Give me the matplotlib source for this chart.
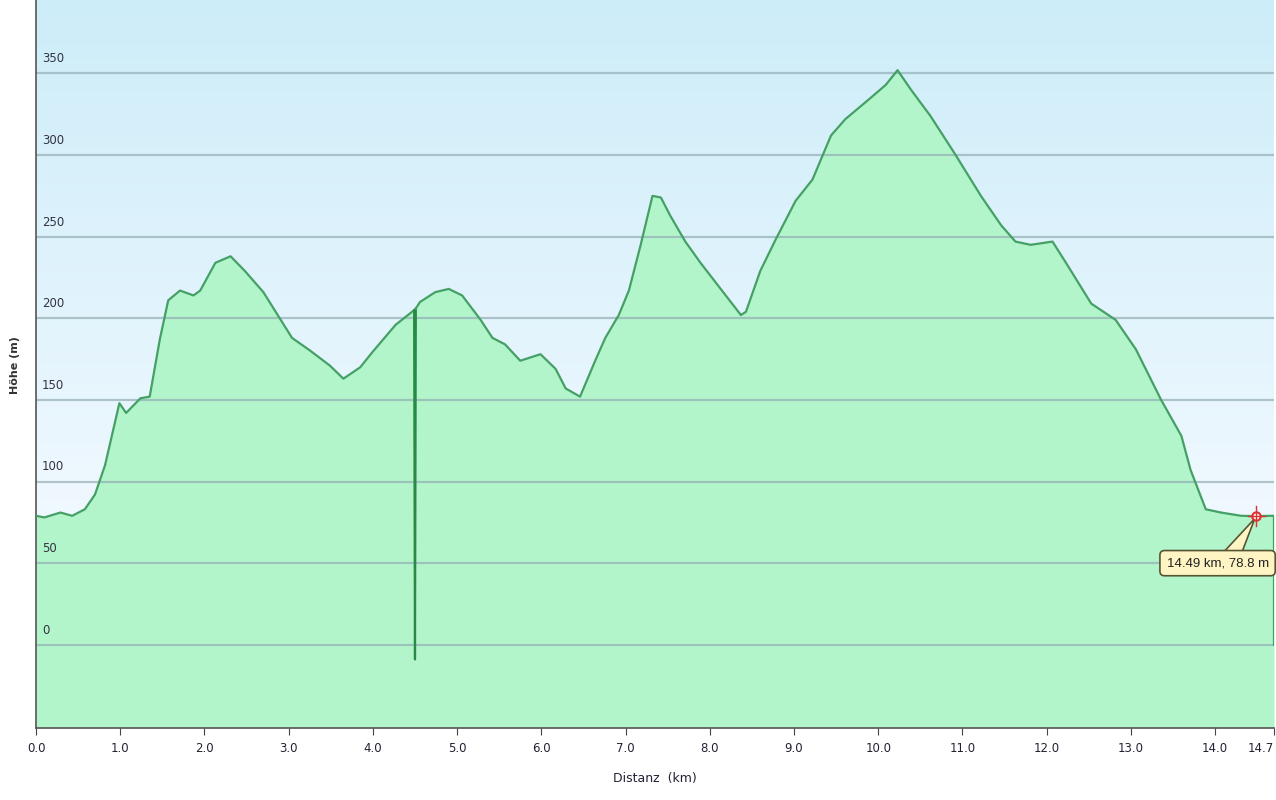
import numpy as np
import matplotlib
matplotlib.use('Agg')
from matplotlib import pyplot as plt
from matplotlib.colors import LinearSegmentedColormap

# elevation profile (km, m)
dist = [0.0, 0.1, 0.29, 0.43, 0.58, 0.70, 0.82, 0.99, 1.07, 1.24, 1.35, 1.47, 1.57,
        1.71, 1.87, 1.95, 2.13, 2.31, 2.48, 2.70, 3.04, 3.26, 3.49, 3.65, 3.85, 3.99,
        4.27, 4.49, 4.50, 4.51, 4.56, 4.74, 4.90, 5.06, 5.28, 5.42, 5.57, 5.75, 5.99,
        6.17, 6.29, 6.46, 6.64, 6.76, 6.92, 7.04, 7.18, 7.32, 7.42, 7.53, 7.71, 7.89,
        8.13, 8.37, 8.43, 8.60, 8.78, 9.02, 9.22, 9.44, 9.61, 9.91, 10.09, 10.23,
        10.39, 10.62, 10.92, 11.22, 11.46, 11.63, 11.81, 12.07, 12.23, 12.53, 12.82,
        13.06, 13.36, 13.60, 13.71, 13.89, 14.07, 14.31, 14.49, 14.66, 14.70, 14.70]
hoehe = [79, 78, 81, 79, 83, 92, 110, 148, 142, 151, 152, 187, 211,
         217, 214, 217, 234, 238, 229, 216, 188, 180, 171, 163, 170, 179,
         196, 205, -9, 206, 210, 216, 218, 214, 199, 188, 184, 174, 178,
         169, 157, 152, 174, 188, 202, 217, 245, 275, 274, 263, 247, 234,
         218, 202, 204, 229, 248, 272, 285, 312, 322, 335, 343, 352,
         340, 324, 300, 275, 257, 247, 245, 247, 234, 209, 199,
         181, 150, 128, 107, 83, 81, 79, 78.8, 79, 79, 0]

xticks = [0, 1, 2, 3, 4, 5, 6, 7, 8, 9, 10, 11, 12, 13, 14, 14.7]
yticks = [0, 50, 100, 150, 200, 250, 300, 350]
marker_x, marker_y = 14.49, 78.8

fig = plt.figure(figsize=(12.76, 8), dpi=100)
ax = fig.add_axes([36/1276, 72/800, 1238/1276, 728/800])
ax.set_xlim(0, 14.7)
ax.set_ylim(-51, 395)

# sky gradient
grad = np.linspace(0, 1, 256).reshape(-1, 1)
sky = LinearSegmentedColormap.from_list('sky', ['#f2f9ff', '#cdedf9'])
ax.imshow(grad, cmap=sky, aspect='auto', extent=(0, 14.7, 60, 395),
          origin='lower', zorder=0)
ax.axhspan(-51, 60, color='#f2f9ff', zorder=0)

ax.fill_between(dist, hoehe, -51, color='#b3f5cb', zorder=1, linewidth=0)
ax.plot(dist[:28], hoehe[:28], color='#45a066', lw=1.6, zorder=3)
ax.plot(dist[27:30], hoehe[27:30], color='#2a8a45', lw=1.6, zorder=3)
ax.plot(dist[29:], hoehe[29:], color='#45a066', lw=1.6, zorder=3)

for y in yticks:
    ax.axhline(y, color='#8ea9b0', lw=1.6, alpha=0.65, zorder=2)
    ax.text(0.07, y + 5, str(y), fontsize=8.5, color='#333344',
            ha='left', va='bottom', zorder=4)

ax.set_yticks([])
ax.set_xticks(xticks)
ax.set_xticklabels(['%.1f' % t for t in xticks], fontsize=8.5, color='#222233')
ax.get_xticklabels()[-1].set_horizontalalignment('right')
ax.get_xticklabels()[-1].set_x(14.76)
ax.tick_params(axis='x', length=5, color='#444444', pad=5)
for s in ['top', 'right']:
    ax.spines[s].set_visible(False)
for s in ['left', 'bottom']:
    ax.spines[s].set_color('#555555')
    ax.spines[s].set_linewidth(1.2)

ax.set_xlabel('Distanz  (km)', fontsize=9, color='#222233', labelpad=12)
fig.text(15/1276, 1 - 365/800, 'Höhe (m)', rotation=90, fontsize=8,
         fontweight='bold', color='#333333', ha='center', va='center')

# marker and tooltip
ax.annotate('%.2f km, %.1f m' % (marker_x, marker_y), xy=(marker_x, marker_y),
            xytext=(14.03, 50), ha='center', va='center', fontsize=9.5,
            family='Liberation Sans', color='#222222', zorder=9,
            bbox=dict(boxstyle='round,pad=0.5,rounding_size=0.35',
                      fc='#fff5c4', ec='#555533', lw=1.2),
            arrowprops=dict(arrowstyle='wedge,tail_width=1.5,shrink_factor=0.5',
                            fc='#fff5c4', ec='#555533', lw=1.2, patchA=None,
                            relpos=(0.6, 0.6), shrinkA=0, shrinkB=2))
ax.plot(marker_x, marker_y, marker='o', ms=6, mfc='white', mec='#e03030',
        mew=1.5, zorder=10)
ax.plot([marker_x - 0.1, marker_x + 0.1], [marker_y, marker_y], color='#e03030', lw=1, zorder=10)
ax.plot([marker_x, marker_x], [marker_y - 6, marker_y + 6], color='#e03030', lw=1, zorder=10)

fig.savefig('out.png', dpi=100)
